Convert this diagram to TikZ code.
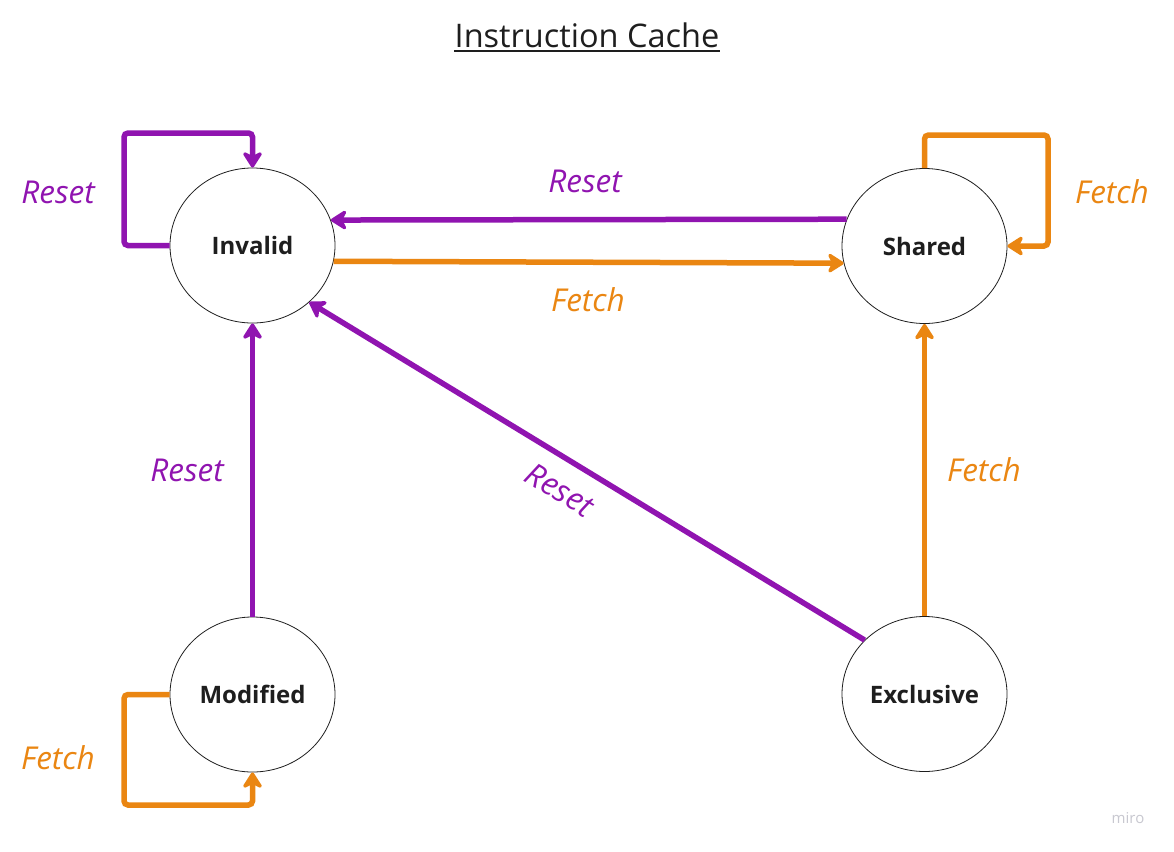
\documentclass[tikz,border=0pt]{standalone}
\usepackage{fontspec}
\setmainfont{Open Sans}
\usetikzlibrary{shapes.geometric,arrows.meta}
\definecolor{rpurple}{RGB}{144,20,176}
\definecolor{forange}{RGB}{234,134,18}
\definecolor{txt}{RGB}{30,30,30}
\definecolor{mirogray}{RGB}{200,200,208}
\tikzset{
  state/.style={ellipse, draw=txt, line width=0.8pt, minimum width=165pt, minimum height=155pt, inner sep=0pt, font=\fontsize{24}{27}\selectfont\bfseries, text=txt},
  tipA/.style={-{Stealth[length=19pt,width=24pt,inset=6pt,round]}},
  rst/.style={draw=rpurple, line width=5.5pt, tipA, rounded corners=4pt},
  fch/.style={draw=forange, line width=5.5pt, tipA, rounded corners=4pt},
  rlab/.style={text=rpurple, font=\fontsize{31.5}{34}\selectfont\itshape, inner sep=0pt},
  flab/.style={text=forange, font=\fontsize{31.5}{34}\selectfont\itshape, inner sep=0pt},
}
\begin{document}
\begin{tikzpicture}[x=1pt,y=-1pt]
\useasboundingbox (0,0) rectangle (1174,851);
\fill[white] (0,0) rectangle (1174,851);

% title
\node[anchor=base, inner sep=0pt, text=txt, font=\fontsize{32.5}{36}\selectfont] (title) at (587,48) {Instruction Cache};
\draw[txt, line width=1.8pt] ([yshift=-3pt]title.base west) -- ([yshift=-3pt]title.base east);

% states
\node[state] (inv) at (252.5,245.5) {Invalid};
\node[state] (sh) at (924.5,246) {Shared};
\node[state] (mod) at (252.5,694.5) {Modified};
\node[state] (exc) at (924.5,694) {Exclusive};

% loop corners
\coordinate (l1) at (124,133);
\coordinate (s1) at (1048,135);
\coordinate (m1) at (124,805);

% self loops
\draw[rst] (inv.west) -| (l1) -| (inv.north);
\draw[fch] (sh.north) |- (s1) |- (sh.east);
\draw[fch] (mod.west) -| (m1) -| (mod.south);

% transitions
\draw[rst] (sh.161.5) -- (inv.18.5);
\draw[fch] (inv.-11.6) -- (sh.192.6);
\draw[rst] (mod.north) -- (inv.south);
\draw[fch] (exc.north) -- (sh.south);
\draw[rst] (exc.138) -- (inv.-45);

% labels
\node[rlab] (lr1) at (58,192) {Reset};
\node[rlab] (lr2) at (585,181) {Reset};
\node[flab] (lf1) at (588,300) {Fetch};
\node[flab] (lf2) at (1112,192) {Fetch};
\node[rlab] (lr3) at (187,470) {Reset};
\node[rlab, rotate=-31] (lr4) at (560,490) {Reset};
\node[flab] (lf3) at (984,470) {Fetch};
\node[flab] (lf4) at (58,758) {Fetch};

% watermark
\node[text=mirogray, font=\fontsize{15}{18}\selectfont, inner sep=0pt] (miro) at (1128,818) {miro};
\end{tikzpicture}
\end{document}
